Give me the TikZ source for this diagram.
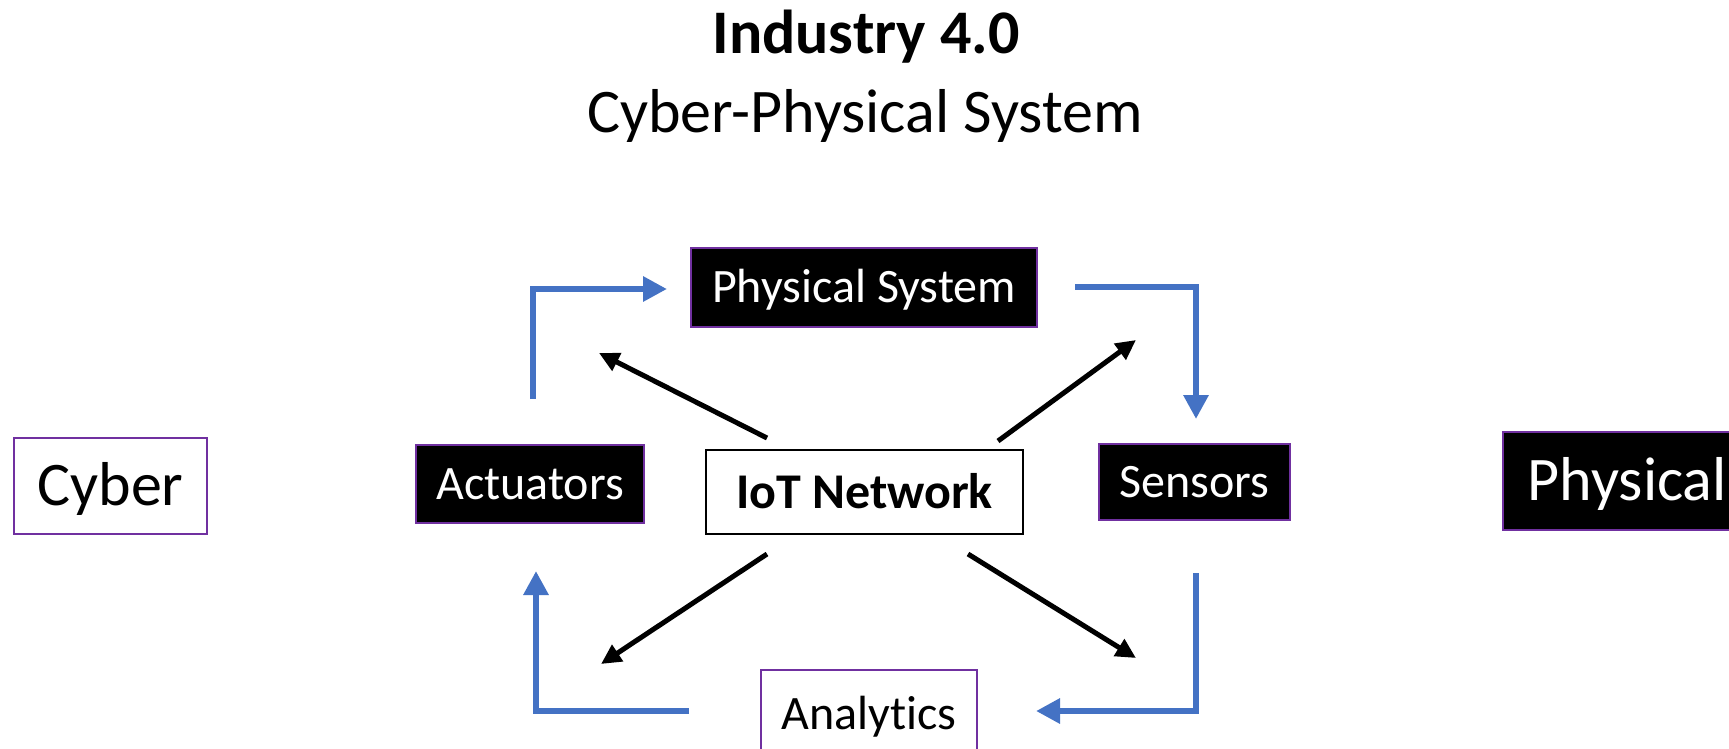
\documentclass[tikz,border=0pt]{standalone}
\usepackage{fontspec}
\setmainfont{Carlito}[Ligatures=NoCommon]
\usetikzlibrary{arrows.meta}
\definecolor{cpurple}{HTML}{7030A0}
\definecolor{cblue}{HTML}{4472C4}
\begin{document}
\begin{tikzpicture}[x=1pt,y=-1pt,
 box/.style={draw=cpurple,line width=1.5pt,inner sep=0pt,anchor=center},
 darkbox/.style={box,fill=black,text=white},
 lightbox/.style={box,fill=white,text=black},
 small/.style={font=\fontsize{48}{56}\selectfont,text height=36pt,text depth=5.3pt},
 big/.style={font=\fontsize{62}{74}\selectfont,text height=46.5pt,text depth=6.8pt},
 flow/.style={draw=cblue,line width=6pt,line join=miter,-{Triangle[length=24pt,width=24pt]}},
 link/.style={draw=black,line width=5pt,-{Triangle[length=20pt,width=19pt]}}]
\useasboundingbox (0,0) rectangle (1729,748);
\clip (0,0) rectangle (1729,748);
\fill[white] (0,0) rectangle (1729,748);

\node[anchor=base,font=\fontsize{62}{74}\selectfont\bfseries] (title) at (866,53) {Industry 4.0};
\node[anchor=base,font=\fontsize{62}{74}\selectfont] (sub) at (865,132) {Cyber-Physical System};

\node[lightbox,big,minimum width=193pt,minimum height=96pt] (cyber) at (110.5,486) {Cyber};
\node[darkbox,big,anchor=west,minimum height=98pt,inner xsep=25pt] (phys) at (1502,481) {Physical};

\node[darkbox,small,minimum width=346pt,minimum height=79pt] (psys) at (864,287.5) {Physical System};
\node[darkbox,small,minimum width=228pt,minimum height=78pt] (act) at (530,484) {Actuators};
\node[box,draw=black,fill=white,font=\fontsize{50}{60}\selectfont\bfseries,text height=37.5pt,text depth=5.5pt,minimum width=317pt,minimum height=84pt] (iot) at (864.5,492) {IoT Network};
\node[darkbox,small,minimum width=191pt,minimum height=76pt] (sens) at (1194.5,482) {Sensors};
\node[lightbox,small,minimum width=216pt,minimum height=88pt] (ana) at (869,714) {Analytics};

\coordinate (a1) at (533,399); \coordinate (a2) at (667,289);
\coordinate (b1) at (1075,287); \coordinate (b2) at (1196,419);
\coordinate (c1) at (1196,573); \coordinate (c2) at (1036,711);
\coordinate (d1) at (689,711); \coordinate (d2) at (536,571);
\draw[flow] (a1) |- (a2);
\draw[flow] (b1) -| (b2);
\draw[flow] (c1) |- (c2);
\draw[flow] (d1) -| (d2);

\coordinate (e1) at (767,438); \coordinate (e2) at (599,353);
\coordinate (f1) at (998,441); \coordinate (f2) at (1136,340);
\coordinate (g1) at (767,554); \coordinate (g2) at (601,664);
\coordinate (h1) at (968,554); \coordinate (h2) at (1136,658);
\draw[link] (e1) -- (e2);
\draw[link] (f1) -- (f2);
\draw[link] (g1) -- (g2);
\draw[link] (h1) -- (h2);
\end{tikzpicture}
\end{document}
